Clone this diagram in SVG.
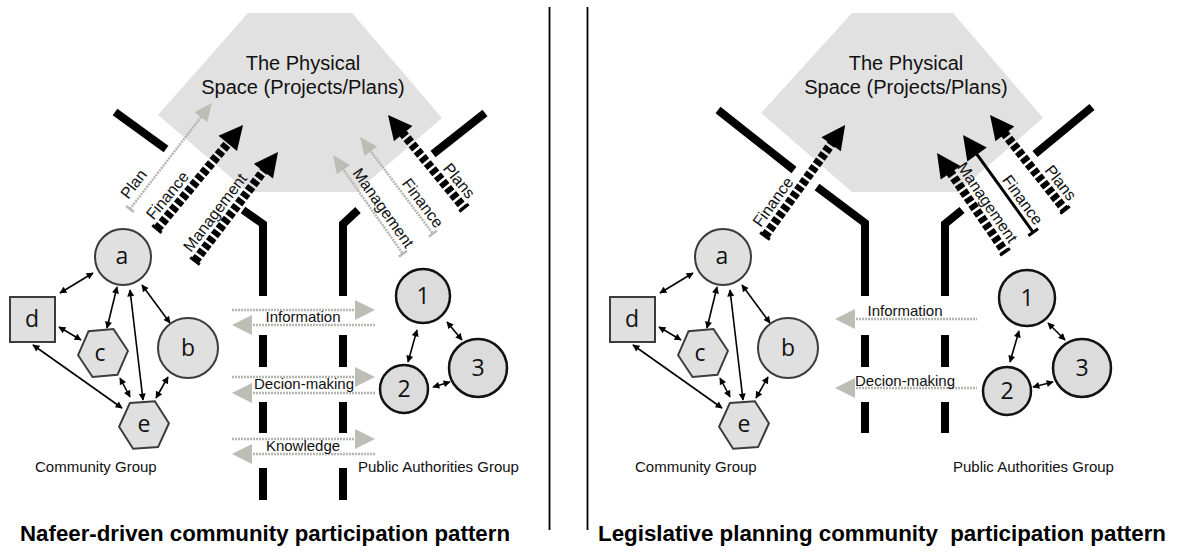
<svg xmlns="http://www.w3.org/2000/svg" width="1180" height="558" viewBox="0 0 1180 558">
  <style>
    .space { fill: #e1e1e1; }
    .title { font-family: "Liberation Sans", Arial, sans-serif; font-size: 20px; fill: #111; text-anchor: middle; }
    .lbl { font-family: "Liberation Sans", Arial, sans-serif; font-size: 15px; fill: #111; }
    .rot { font-family: "Liberation Sans", Arial, sans-serif; font-size: 16px; fill: #111; }
    .cap { font-family: "Liberation Sans", Arial, sans-serif; font-size: 22px; font-weight: bold; fill: #000; }
    .node { fill: #e0e0e0; stroke: #3c3c3c; stroke-width: 2; }
    .pa { fill: #dcdcdc; stroke: #111; stroke-width: 2.5; }
    .nl { font-family: "Open Sans", "DejaVu Sans", sans-serif; font-size: 23px; fill: #111; text-anchor: middle; }
    .wall { fill: none; stroke: #000; stroke-width: 8; stroke-linejoin: miter; }
    .link { stroke: #000; stroke-width: 1.6; fill: none; marker-start: url(#ah); marker-end: url(#ah); }
    .thick { stroke: #000; stroke-width: 9; stroke-dasharray: 5.5 2.5; fill: none; }
    .solid { stroke: #000; stroke-width: 3; fill: none; }
    .bar { stroke: #000; stroke-width: 3; }
    .bhead { fill: #000; }
    .dot { stroke: #b4b4b0; stroke-width: 2.5; stroke-dasharray: 2 1; fill: none; }
    .gbar { stroke: #b8b8b4; stroke-width: 2.5; }
    .ghead { fill: #bdbdb5; }
    .divider { stroke: #000; stroke-width: 1.8; }
  </style>
  <defs>
    <marker id="ah" viewBox="0 0 10 10" refX="9" refY="5" markerWidth="8" markerHeight="7" markerUnits="userSpaceOnUse" orient="auto-start-reverse">
      <path d="M0,0 L10,5 L0,10 z" fill="#000"/>
    </marker>
  </defs>

  <rect width="1180" height="558" fill="#fff"/>

  <!-- ===================== LEFT PANEL ===================== -->
  <g id="physical-space-left">
    <polygon class="space" points="248,13 352,13 442,118 356,192 248,192 158,115"/>
    <text class="title" x="303" y="70">The Physical</text>
    <text class="title" x="303" y="94">Space (Projects/Plans)</text>
  </g>

  <g id="walls-left">
    <line class="wall" x1="115" y1="112" x2="166" y2="149"/>
    <line class="wall" x1="433" y1="154" x2="485" y2="113"/>
    <polyline class="wall" points="243,210 263,224 263,296"/>
    <polyline class="wall" points="358,210 343,224 343,296"/>
    <line class="wall" x1="263" y1="335" x2="263" y2="367"/>
    <line class="wall" x1="343" y1="335" x2="343" y2="367"/>
    <line class="wall" x1="263" y1="402" x2="263" y2="433"/>
    <line class="wall" x1="343" y1="402" x2="343" y2="433"/>
    <line class="wall" x1="263" y1="468" x2="263" y2="500"/>
    <line class="wall" x1="343" y1="468" x2="343" y2="500"/>
  </g>

  <g id="flows-left">
    <!-- Plan (community, light) -->
    <g transform="translate(130,209) rotate(-52.3)">
      <line class="gbar" x1="0" y1="-5" x2="0" y2="5"/>
      <line class="dot" x1="0" y1="0" x2="118" y2="0"/>
      <polygon class="ghead" points="116,-8 134,0 116,8"/>
      <text class="rot" x="6" y="-7">Plan</text>
    </g>
    <!-- Finance (community, strong) -->
    <g transform="translate(157,229) rotate(-50.4)">
      <line class="bar" x1="0" y1="-6" x2="0" y2="6"/>
      <line class="thick" x1="0" y1="0" x2="113" y2="0"/>
      <polygon class="bhead" points="111,-12 135,0 111,12"/>
      <text class="rot" x="4" y="-8">Finance</text>
    </g>
    <!-- Management (community, strong) -->
    <g transform="translate(195,261) rotate(-52.7)">
      <line class="bar" x1="0" y1="-6" x2="0" y2="6"/>
      <line class="thick" x1="0" y1="0" x2="115" y2="0"/>
      <polygon class="bhead" points="113,-12 137,0 113,12"/>
      <text class="rot" x="4" y="-8">Management</text>
    </g>
    <!-- Management (authorities, light) -->
    <g transform="translate(333,155) rotate(54.7)">
      <polygon class="ghead" points="0,0 18,-8 18,8"/>
      <line class="dot" x1="16" y1="0" x2="121" y2="0"/>
      <line class="gbar" x1="121" y1="-5" x2="121" y2="5"/>
      <text class="rot" x="119" y="-5" text-anchor="end">Management</text>
    </g>
    <!-- Finance (authorities, light) -->
    <g transform="translate(360,137) rotate(53)">
      <polygon class="ghead" points="0,0 18,-8 18,8"/>
      <line class="dot" x1="16" y1="0" x2="121" y2="0"/>
      <line class="gbar" x1="121" y1="-5" x2="121" y2="5"/>
      <text class="rot" x="119" y="-5" text-anchor="end">Finance</text>
    </g>
    <!-- Plans (authorities, strong) -->
    <g transform="translate(388,115) rotate(50.7)">
      <polygon class="bhead" points="0,0 24,-12 24,12"/>
      <line class="thick" x1="22" y1="0" x2="120" y2="0"/>
      <line class="bar" x1="120" y1="-6" x2="120" y2="6"/>
      <text class="rot" x="116" y="-8" text-anchor="end">Plans</text>
    </g>
  </g>

  <g id="channel-left">
    <line class="dot" x1="232" y1="310" x2="357" y2="310"/>
    <polygon class="ghead" points="355,300 375,310 355,320"/>
    <line class="dot" x1="250" y1="325" x2="375" y2="325"/>
    <polygon class="ghead" points="252,315 232,325 252,335"/>
    <text class="lbl" x="303" y="322" text-anchor="middle">Information</text>

    <line class="dot" x1="232" y1="377" x2="357" y2="377"/>
    <polygon class="ghead" points="355,367 375,377 355,387"/>
    <line class="dot" x1="250" y1="393" x2="375" y2="393"/>
    <polygon class="ghead" points="252,383 232,393 252,403"/>
    <text class="lbl" x="304" y="389" text-anchor="middle">Decion-making</text>

    <line class="dot" x1="232" y1="439" x2="357" y2="439"/>
    <polygon class="ghead" points="355,429 375,439 355,449"/>
    <line class="dot" x1="250" y1="454" x2="375" y2="454"/>
    <polygon class="ghead" points="252,444 232,454 252,464"/>
    <text class="lbl" x="303" y="451" text-anchor="middle">Knowledge</text>
  </g>

  <g id="links-left">
    <line class="link" x1="93" y1="273" x2="60" y2="293"/>
    <line class="link" x1="117" y1="287" x2="107" y2="328"/>
    <line class="link" x1="130" y1="290" x2="143" y2="400"/>
    <line class="link" x1="142" y1="285" x2="170" y2="323"/>
    <line class="link" x1="59" y1="327" x2="81" y2="340"/>
    <line class="link" x1="33" y1="345" x2="122" y2="408"/>
    <line class="link" x1="120" y1="378" x2="130" y2="397"/>
    <line class="link" x1="168" y1="377" x2="156" y2="398"/>
    <line class="link" x1="417" y1="330" x2="408" y2="362"/>
    <line class="link" x1="447" y1="322" x2="462" y2="340"/>
    <line class="link" x1="433" y1="387" x2="450" y2="382"/>
  </g>

  <g id="node-a-left"><circle class="node" cx="123" cy="257" r="28"/><text class="nl" x="122" y="264">a</text></g>
  <g id="node-b-left"><circle class="node" cx="188" cy="348" r="30"/><text class="nl" x="188" y="356">b</text></g>
  <g id="node-c-left"><polygon class="node" transform="rotate(-5 103 353)" points="128,353 115.5,376 90.5,376 78,353 90.5,330 115.5,330"/><text class="nl" x="100" y="361">c</text></g>
  <g id="node-d-left"><rect class="node" x="10" y="297" width="45" height="45" stroke-width="2.5"/><text class="nl" x="32" y="327">d</text></g>
  <g id="node-e-left"><polygon class="node" transform="rotate(-4 144 425)" points="169,425 156.5,448 131.5,448 119,425 131.5,402 156.5,402"/><text class="nl" x="144" y="432">e</text></g>
  <g id="node-1-left"><circle class="pa" cx="423" cy="296" r="27"/><text class="nl" x="423" y="304">1</text></g>
  <g id="node-2-left"><circle class="pa" cx="404" cy="389" r="24"/><text class="nl" x="404" y="397">2</text></g>
  <g id="node-3-left"><circle class="pa" cx="478" cy="368" r="29"/><text class="nl" x="478" y="376">3</text></g>

  <text class="lbl" x="35" y="472">Community Group</text>
  <text class="lbl" x="358" y="472">Public Authorities Group</text>

  <!-- ===================== RIGHT PANEL ===================== -->
  <g id="physical-space-right">
    <polygon class="space" points="852,13 953,13 1043,118 958,192 852,192 761,113"/>
    <text class="title" x="906" y="70">The Physical</text>
    <text class="title" x="906" y="94">Space (Projects/Plans)</text>
  </g>

  <g id="walls-right">
    <line class="wall" x1="718" y1="110" x2="794" y2="170"/>
    <line class="wall" x1="1035" y1="154" x2="1092" y2="107"/>
    <polyline class="wall" points="817,187 865,223 865,296"/>
    <polyline class="wall" points="962,210 945,224 945,296"/>
    <line class="wall" x1="865" y1="335" x2="865" y2="367"/>
    <line class="wall" x1="945" y1="335" x2="945" y2="367"/>
    <line class="wall" x1="865" y1="402" x2="865" y2="433"/>
    <line class="wall" x1="945" y1="402" x2="945" y2="433"/>
  </g>

  <g id="flows-right">
    <!-- Finance (community, strong) -->
    <g transform="translate(765,236) rotate(-54.2)">
      <line class="bar" x1="0" y1="-6" x2="0" y2="6"/>
      <line class="thick" x1="0" y1="0" x2="115" y2="0"/>
      <polygon class="bhead" points="113,-12 137,0 113,12"/>
      <text class="rot" x="4" y="-8">Finance</text>
    </g>
    <!-- Management (authorities, strong) -->
    <g transform="translate(937,153) rotate(55.5)">
      <polygon class="bhead" points="0,0 24,-12 24,12"/>
      <line class="thick" x1="22" y1="0" x2="120" y2="0"/>
      <line class="bar" x1="120" y1="-6" x2="120" y2="6"/>
      <text class="rot" x="116" y="-8" text-anchor="end">Management</text>
    </g>
    <!-- Finance (authorities, solid) -->
    <g transform="translate(963,135) rotate(54.2)">
      <polygon class="bhead" points="0,0 24,-12 24,12"/>
      <line class="solid" x1="22" y1="0" x2="120" y2="0"/>
      <line class="bar" x1="120" y1="-6" x2="120" y2="6"/>
      <text class="rot" x="116" y="-5" text-anchor="end">Finance</text>
    </g>
    <!-- Plans (authorities, strong) -->
    <g transform="translate(990,115) rotate(51.7)">
      <polygon class="bhead" points="0,0 24,-12 24,12"/>
      <line class="thick" x1="22" y1="0" x2="121" y2="0"/>
      <line class="bar" x1="121" y1="-6" x2="121" y2="6"/>
      <text class="rot" x="117" y="-8" text-anchor="end">Plans</text>
    </g>
  </g>

  <g id="channel-right">
    <line class="dot" x1="853" y1="319" x2="977" y2="319"/>
    <polygon class="ghead" points="855,309 835,319 855,329"/>
    <text class="lbl" x="905" y="316" text-anchor="middle">Information</text>
    <line class="dot" x1="853" y1="388" x2="977" y2="388"/>
    <polygon class="ghead" points="855,378 835,388 855,398"/>
    <text class="lbl" x="905" y="386" text-anchor="middle">Decion-making</text>
  </g>

  <g id="links-right">
    <line class="link" x1="693" y1="273" x2="660" y2="293"/>
    <line class="link" x1="717" y1="287" x2="707" y2="328"/>
    <line class="link" x1="730" y1="290" x2="743" y2="400"/>
    <line class="link" x1="742" y1="285" x2="770" y2="323"/>
    <line class="link" x1="659" y1="327" x2="681" y2="340"/>
    <line class="link" x1="633" y1="345" x2="722" y2="408"/>
    <line class="link" x1="720" y1="378" x2="730" y2="397"/>
    <line class="link" x1="768" y1="377" x2="756" y2="398"/>
    <line class="link" x1="1019" y1="331" x2="1010" y2="362"/>
    <line class="link" x1="1048" y1="323" x2="1065" y2="340"/>
    <line class="link" x1="1033" y1="387" x2="1053" y2="382"/>
  </g>

  <g id="node-a-right"><circle class="node" cx="723" cy="257" r="28"/><text class="nl" x="722" y="264">a</text></g>
  <g id="node-b-right"><circle class="node" cx="788" cy="348" r="30"/><text class="nl" x="788" y="356">b</text></g>
  <g id="node-c-right"><polygon class="node" transform="rotate(-5 703 353)" points="728,353 715.5,376 690.5,376 678,353 690.5,330 715.5,330"/><text class="nl" x="700" y="361">c</text></g>
  <g id="node-d-right"><rect class="node" x="610" y="297" width="45" height="45" stroke-width="2.5"/><text class="nl" x="632" y="327">d</text></g>
  <g id="node-e-right"><polygon class="node" transform="rotate(-4 744 425)" points="769,425 756.5,448 731.5,448 719,425 731.5,402 756.5,402"/><text class="nl" x="744" y="432">e</text></g>
  <g id="node-1-right"><circle class="pa" cx="1027" cy="298" r="28"/><text class="nl" x="1027" y="306">1</text></g>
  <g id="node-2-right"><circle class="pa" cx="1007" cy="391" r="24"/><text class="nl" x="1007" y="399">2</text></g>
  <g id="node-3-right"><circle class="pa" cx="1082" cy="368" r="29"/><text class="nl" x="1082" y="376">3</text></g>

  <text class="lbl" x="635" y="472">Community Group</text>
  <text class="lbl" x="953" y="472">Public Authorities Group</text>

  <!-- panel separators and captions -->
  <line class="divider" x1="549.5" y1="7" x2="549.5" y2="530"/>
  <line class="divider" x1="587.5" y1="7" x2="587.5" y2="530"/>
  <text class="cap" x="20" y="541" textLength="490" lengthAdjust="spacingAndGlyphs">Nafeer-driven community participation pattern</text>
  <text class="cap" x="598" y="541" textLength="568" lengthAdjust="spacingAndGlyphs" xml:space="preserve">Legislative planning community  participation pattern</text>
</svg>
